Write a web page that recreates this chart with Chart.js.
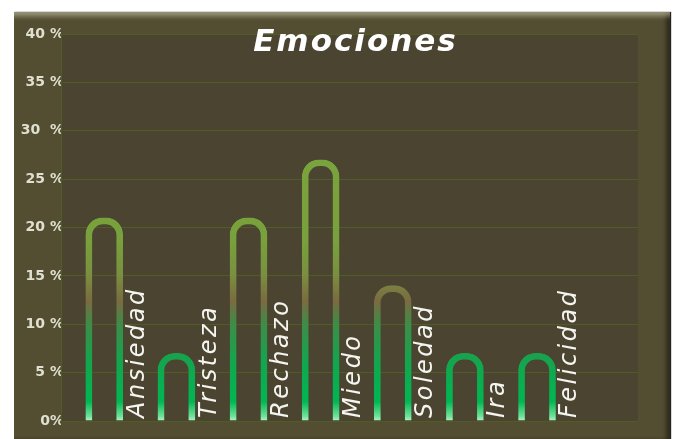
<!DOCTYPE html>
<html lang="es">
<head>
<meta charset="UTF-8">
<title>Emociones</title>
<script src="https://cdn.jsdelivr.net/npm/chart.js"></script>
<style>
  body { margin: 0; background: #fff; }
  .frame {
    position: absolute; left: 14px; top: 12px; width: 656px; height: 427px;
    background: #534e32;
    box-shadow: inset 0 8px 5px -4px rgba(235, 230, 200, .5),
                inset -5px 0 4px -1px rgba(0, 0, 0, .45),
                1px 0 1px #222;
  }
  canvas { position: absolute; left: 0; top: 0; }
</style>
</head>
<body>
<div class="frame"></div>
<canvas id="chart" width="675" height="439"></canvas>
<script>
const title = 'Emociones';
const categories = ['Ansiedad', 'Tristeza', 'Rechazo', 'Miedo', 'Soledad', 'Ira', 'Felicidad'];
const values = [21, 7, 21, 27, 14, 7, 7];
const yTickLabels = ['0%', '5 %', '10 %', '15 %', '20 %', '25 %', '30  %', '35 %', '40 %'];

function barGradient(context) {
  const chart = context.chart;
  if (!chart.chartArea) return '#00b050';
  const y = chart.scales.y;
  const g = chart.ctx.createLinearGradient(0, y.getPixelForValue(0), 0, y.getPixelForValue(40));
  g.addColorStop(0, '#b8f2cc');
  g.addColorStop(0.012, '#70e29a');
  g.addColorStop(0.05, '#00b752');
  g.addColorStop(0.15, '#12a64e');
  g.addColorStop(0.25, '#3e8c48');
  g.addColorStop(0.31, '#7a6b40');
  g.addColorStop(0.38, '#7a9040');
  g.addColorStop(0.46, '#78a03c');
  g.addColorStop(1, '#7ba83c');
  return g;
}

const decor = {
  id: 'decor',
  beforeDraw(chart) {
    const { ctx, chartArea: a } = chart;
    ctx.save();
    ctx.fillStyle = '#4a4430';
    ctx.fillRect(a.left, a.top, a.right - a.left, a.bottom - a.top);
    ctx.restore();
  },
  afterDraw(chart) {
    const { ctx, chartArea: a, scales: { x } } = chart;
    ctx.save();
    ctx.fillStyle = '#ffffff';
    ctx.font = 'italic bold 31px "DejaVu Sans"';
    ctx.letterSpacing = '2px';
    ctx.textAlign = 'center';
    ctx.textBaseline = 'middle';
    ctx.fillText(title, (a.left + a.right) / 2 + 6, 43);

    ctx.fillStyle = '#f4f4f0';
    ctx.font = 'italic 24px "DejaVu Sans"';
    ctx.letterSpacing = '2.5px';
    ctx.textAlign = 'left';
    categories.forEach((c, i) => {
      ctx.save();
      ctx.translate(x.getPixelForValue(i + 0.46), a.bottom - 3);
      ctx.rotate(-Math.PI / 2);
      ctx.fillText(c, 0, 0);
      ctx.restore();
    });
    ctx.restore();
  }
};

new Chart(document.getElementById('chart'), {
  type: 'bar',
  data: {
    datasets: [{
      label: title,
      data: values.map((v, i) => ({ x: i, y: v })),
      backgroundColor: 'rgba(0,0,0,0)',
      borderColor: barGradient,
      borderWidth: 6,
      borderSkipped: 'bottom',
      borderRadius: { topLeft: 17, topRight: 17, bottomLeft: 0, bottomRight: 0 },
      barThickness: 37
    }]
  },
  options: {
    responsive: false,
    animation: false,
    layout: { padding: { left: 14, right: 37, top: 34, bottom: 18 } },
    plugins: {
      legend: { display: false },
      tooltip: { enabled: false },
      title: { display: false }
    },
    scales: {
      x: {
        type: 'linear',
        min: -0.6,
        max: 7.4,
        offset: false,
        display: false
      },
      y: {
        min: 0,
        max: 40,
        ticks: {
          stepSize: 5,
          padding: -3,
          color: '#e0e0d0',
          font: { family: 'DejaVu Sans', weight: 'bold', size: 14 },
          callback: (v, i) => yTickLabels[i]
        },
        grid: { color: '#4e5c26', lineWidth: 1, drawTicks: false },
        border: { display: true, color: '#4e5c26' },
        afterFit: (scale) => { scale.width = 47; }
      }
    }
  },
  plugins: [decor]
});
</script>
</body>
</html>
